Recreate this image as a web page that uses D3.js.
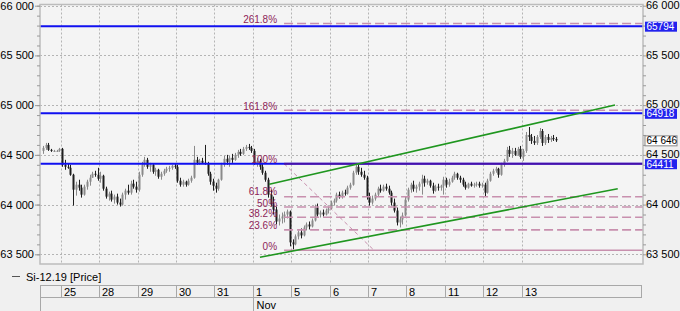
<!DOCTYPE html>
<html>
<head>
<meta charset="utf-8">
<script src="https://d3js.org/d3.v7.min.js"></script>
<style>
  body { margin: 0; background: #f0f0f0; }
  svg { display: block; font-family: "Liberation Sans", Arial, sans-serif; font-size: 11px; }
</style>
</head>
<body>
<svg width="680" height="311"></svg>
<script>
// trading days on the x axis and the number of hourly bars in each
var days = ["24", "25", "28", "29", "30", "31", "1", "5", "6", "7", "8", "11", "12", "13"];
var barsPerDay = [7, 14, 14, 14, 14, 14, 14, 14, 14, 14, 14, 14, 14, 13];
var monthLabels = [{day: "1", text: "Nov"}];

// Si-12.19 hourly bars, one line per day
var opens = [
  64540,64570,64600,64550,64540,64540,64540,
  64560,64400,64380,64370,64300,64150,64200,64170,64100,64180,64230,64270,64310,64300,
  64260,64290,64160,64080,64110,64050,64080,64020,64000,64100,64140,64120,64210,64180,
  64150,64300,64400,64450,64380,64400,64330,64350,64280,64310,64340,64360,64370,64390,
  64380,64240,64200,64230,64200,64240,64270,64450,64420,64440,64420,64410,64310,64230,
  64190,64160,64250,64400,64460,64430,64470,64450,64500,64530,64510,64560,64580,64570,
  64540,64420,64440,64380,64320,64250,64100,64000,63950,63830,63860,63880,63900,63930,
  63620,63600,63680,63720,63690,63770,63800,63780,63840,63970,63900,63920,63900,63940,
  63960,64020,64040,64100,64080,64120,64110,64170,64200,64320,64380,64330,64300,64270,
  64080,64020,64060,64100,64160,64140,64180,64160,64120,64020,63940,63820,63850,63890,
  64050,64150,64200,64160,64180,64210,64260,64220,64240,64190,64140,64180,64170,64190,
  64250,64200,64230,64270,64310,64270,64250,64200,64170,64210,64190,64200,64210,64190,
  64200,64120,64240,64310,64340,64360,64300,64400,64440,64550,64510,64540,64500,64560,
  64480,64540,64700,64680,64640,64620,64680,64740,64620,64680,64650,64670,64660
];
var highs = [
  64590,64620,64620,64560,64550,64550,64570,
  64570,64450,64410,64400,64310,64230,64250,64200,64200,64250,64300,64330,64340,64370,
  64330,64300,64180,64130,64140,64100,64110,64060,64120,64160,64200,64240,64250,64230,
  64330,64430,64480,64470,64420,64410,64370,64360,64330,64360,64380,64390,64400,64410,
  64400,64270,64250,64240,64260,64290,64590,64480,64460,64470,64600,64430,64330,64260,
  64220,64260,64420,64490,64500,64490,64510,64520,64550,64560,64580,64600,64610,64590,
  64560,64470,64460,64420,64340,64270,64150,64080,63980,63900,63920,63930,63950,63940,
  63650,63700,63740,63760,63790,63820,63830,63860,64000,64010,63940,63950,63960,63980,
  64040,64060,64120,64130,64140,64150,64190,64220,64340,64410,64400,64370,64340,64290,
  64120,64090,64120,64180,64200,64200,64210,64190,64140,64060,63970,63880,63920,64080,
  64170,64220,64240,64200,64230,64300,64290,64260,64250,64220,64200,64210,64200,64280,
  64270,64260,64290,64330,64320,64290,64270,64230,64220,64230,64220,64230,64230,64220,
  64220,64260,64330,64360,64380,64370,64420,64460,64580,64590,64570,64570,64580,64590,
  64560,64730,64780,64710,64690,64700,64770,64760,64700,64710,64690,64700,64680
];
var lows = [
  64510,64550,64540,64530,64530,64530,64530,
  64380,64350,64360,64290,63990,64090,64140,64070,64090,64150,64190,64270,64280,64240,
  64220,64140,64060,64040,64030,64010,64000,63980,63990,64050,64100,64100,64160,64120,
  64130,64280,64380,64360,64330,64310,64290,64260,64250,64290,64320,64330,64350,64360,
  64220,64180,64180,64180,64190,64220,64260,64400,64400,64410,64400,64290,64200,64140,
  64120,64140,64240,64380,64400,64380,64420,64440,64470,64490,64500,64540,64550,64520,
  64400,64380,64350,64300,64230,64070,63980,63900,63800,63790,63810,63820,63860,63580,
  63550,63590,63650,63660,63680,63740,63750,63770,63830,63880,63870,63880,63890,63910,
  63950,63990,64020,64060,64060,64090,64100,64150,64190,64300,64300,64280,64250,64050,
  63990,64000,64040,64080,64120,64130,64140,64100,63990,63920,63790,63770,63800,63880,
  64030,64120,64130,64120,64140,64100,64180,64200,64170,64110,64130,64140,64140,64100,
  64170,64180,64220,64250,64250,64220,64180,64150,64160,64180,64170,64180,64170,64170,
  64080,64110,64230,64290,64320,64270,64290,64380,64430,64480,64470,64490,64490,64460,
  64440,64520,64640,64610,64600,64600,64660,64590,64600,64620,64630,64640,64630
];
var closes = [
  64570,64600,64550,64540,64540,64540,64560,
  64400,64380,64370,64300,64150,64200,64170,64100,64180,64230,64270,64310,64300,64260,
  64290,64160,64080,64110,64050,64080,64020,64000,64100,64140,64120,64210,64180,64150,
  64300,64400,64450,64380,64400,64330,64350,64280,64310,64340,64360,64370,64390,64380,
  64240,64200,64230,64200,64240,64270,64450,64420,64440,64420,64410,64310,64230,64190,
  64160,64250,64400,64460,64430,64470,64450,64500,64530,64510,64560,64580,64570,64540,
  64420,64440,64380,64320,64250,64100,64000,63950,63830,63860,63880,63900,63930,63620,
  63600,63680,63720,63690,63770,63800,63780,63840,63970,63900,63920,63900,63940,63960,
  64020,64040,64100,64080,64120,64110,64170,64200,64320,64380,64330,64300,64270,64080,
  64020,64060,64100,64160,64140,64180,64160,64120,64020,63940,63820,63850,63890,64050,
  64150,64200,64160,64180,64210,64260,64220,64240,64190,64140,64180,64170,64190,64250,
  64200,64230,64270,64310,64270,64250,64200,64170,64210,64190,64200,64210,64190,64200,
  64120,64240,64310,64340,64360,64300,64400,64440,64550,64510,64540,64500,64560,64480,
  64540,64700,64680,64640,64620,64680,64740,64620,64680,64650,64670,64660,64646
];

// drawn objects
var yTicks = [63500, 64000, 64500, 65000, 65500, 66000];
var levelLines = [65794, 64918, 64411];
var lastPrice = 64646;
var fibHigh = 64411, fibLow = 63540;           // 100% and 0%
var fibFrom = 88.4, fibTo = 121.2;               // bar index of the two anchors
var fibRatios = [0, 0.236, 0.382, 0.5, 0.618, 1, 1.618, 2.618];
var fibLabels = ["0%", "23.6%", "38.2%", "50%", "61.8%", "100%", "161.8%", "261.8%"];
var channelUpper = [[83.0, 64204], [209.0, 65001]];
var channelLower = [[79.6, 63470], [210.0, 64160]];

var svg = d3.select("svg");
var plot = {left: 40, right: 643, top: 4.5, bottom: 264};

var x = d3.scaleLinear().domain([0, 220]).range([41.5, 41.5 + 220 * 2.744]);
var y = d3.scaleLinear().domain([63500, 66000]).range([254.3, 5.7]);
var fmt = function(d) { return d3.format(",")(d).replace(",", " "); };

// day start indexes
var dayStart = [], acc = 0;
barsPerDay.forEach(function(n) { dayStart.push(acc); acc += n; });

var bars = closes.map(function(c, i) {
  return {i: i, o: opens[i], h: highs[i], l: lows[i], c: c};
});

// plot background
svg.append("rect")
  .attr("x", plot.left).attr("y", plot.top)
  .attr("width", plot.right - plot.left).attr("height", plot.bottom - plot.top)
  .attr("fill", "#f4f4f4");

// grid
var grid = svg.append("g").attr("stroke", "#b4b4b4").attr("stroke-dasharray", "2,2");
grid.selectAll(".h").data(yTicks).enter().append("line")
  .attr("x1", plot.left).attr("x2", plot.right)
  .attr("y1", function(d) { return Math.round(y(d)) + 0.5; })
  .attr("y2", function(d) { return Math.round(y(d)) + 0.5; });
grid.selectAll(".v").data(dayStart.slice(1)).enter().append("line")
  .attr("y1", plot.top).attr("y2", plot.bottom)
  .attr("x1", function(d) { return Math.round(x(d)) + 0.5; })
  .attr("x2", function(d) { return Math.round(x(d)) + 0.5; });

// candles
var candles = svg.append("g").selectAll("g").data(bars).enter().append("g")
  .attr("fill", function(d) { return d.c >= d.o ? "#8a8a8a" : "#1e1e1e"; })
  .attr("stroke", function(d) { return d.c >= d.o ? "#8a8a8a" : "#1e1e1e"; });
candles.append("line")
  .attr("x1", function(d) { return Math.round(x(d.i + 0.5)) + 0.5; })
  .attr("x2", function(d) { return Math.round(x(d.i + 0.5)) + 0.5; })
  .attr("y1", function(d) { return y(d.h); })
  .attr("y2", function(d) { return y(d.l); });
candles.append("rect")
  .attr("stroke", "none")
  .attr("x", function(d) { return Math.round(x(d.i + 0.5)) - 0.5; })
  .attr("width", 2)
  .attr("y", function(d) { return y(Math.max(d.o, d.c)); })
  .attr("height", function(d) { return Math.max(1, Math.abs(y(d.o) - y(d.c))); });

// fibonacci levels
var fibX = x(fibFrom);
var fib = fibRatios.map(function(r, k) {
  return {r: r, label: fibLabels[k], v: fibLow + r * (fibHigh - fibLow)};
});
svg.append("g").selectAll("line").data(fib.filter(function(d) { return d.r !== 1; }))
  .enter().append("line")
  .attr("x1", fibX).attr("x2", plot.right)
  .attr("y1", function(d) { return y(d.v); })
  .attr("y2", function(d) { return y(d.v); })
  .attr("stroke", "#c890ae")
  .attr("stroke-width", 1.6)
  .attr("stroke-dasharray", function(d) { return d.r === 0 ? null : "9,4"; });

svg.append("line")
  .attr("x1", fibX).attr("y1", y(fibHigh))
  .attr("x2", x(fibTo)).attr("y2", y(fibLow))
  .attr("stroke", "#c890ae").attr("stroke-dasharray", "4,3");

// horizontal levels
svg.append("g").selectAll("line").data(levelLines).enter().append("line")
  .attr("x1", plot.left).attr("x2", plot.right)
  .attr("y1", function(d) { return y(d); })
  .attr("y2", function(d) { return y(d); })
  .attr("stroke", "#1010f0").attr("stroke-width", 2);
// 100% level on top of the 64411 line
svg.append("line")
  .attr("x1", fibX).attr("x2", plot.right)
  .attr("y1", y(fibHigh)).attr("y2", y(fibHigh))
  .attr("stroke", "#5a1090").attr("stroke-width", 2).attr("opacity", 0.75);

svg.append("g").selectAll("text").data(fib).enter().append("text")
  .attr("x", fibX - 7)
  .attr("y", function(d) { return y(d.v) - (d.r === 0.618 ? 2 : 0.5); })
  .attr("text-anchor", "end")
  .attr("font-size", 10)
  .attr("fill", "#8e2458")
  .text(function(d) { return d.label; });

// trend channel
var line = d3.line().x(function(d) { return x(d[0]); }).y(function(d) { return y(d[1]); });
svg.append("g").selectAll("path").data([channelUpper, channelLower]).enter().append("path")
  .attr("d", line)
  .attr("fill", "none")
  .attr("stroke", "#1f961f")
  .attr("stroke-width", 1.6);

// frame
svg.append("rect")
  .attr("x", plot.left).attr("y", plot.top)
  .attr("width", plot.right - plot.left).attr("height", plot.bottom - plot.top)
  .attr("fill", "none").attr("stroke", "#bcbcbc").attr("stroke-width", 1.5);

// y axes
var minor = d3.range(63500, 66001, 100);
var leftAxis = svg.append("g").attr("transform", "translate(" + plot.left + ",0)")
  .call(d3.axisLeft(y).tickValues(minor).tickSize(3).tickFormat(""));
var leftLabels = svg.append("g").attr("transform", "translate(" + plot.left + ",0)")
  .call(d3.axisLeft(y).tickValues(yTicks).tickSize(5).tickPadding(1).tickFormat(fmt));
var rightAxis = svg.append("g").attr("transform", "translate(" + plot.right + ",0)")
  .call(d3.axisRight(y).tickValues(minor).tickSize(3).tickFormat(""));
var rightLabels = svg.append("g").attr("transform", "translate(" + plot.right + ",0)")
  .call(d3.axisRight(y).tickValues(yTicks).tickSize(0).tickPadding(3).tickFormat(fmt));
[leftAxis, leftLabels, rightAxis, rightLabels].forEach(function(g) {
  g.select(".domain").remove();
  g.selectAll("line").attr("stroke", "#9a9a9a");
  g.selectAll("text").attr("font-size", 11).attr("font-family", "Liberation Sans, Arial").attr("fill", "#000");
});
rightLabels.selectAll("text").attr("dy", "0.25em");

// price boxes on the right axis
var boxes = levelLines.map(function(v) { return {v: v, text: String(v), bg: "#2222ee", fg: "#fff"}; });
boxes.push({v: lastPrice, text: fmt(lastPrice), bg: "#fff", fg: "#000", stroke: "#888"});
var box = svg.append("g").selectAll("g").data(boxes).enter().append("g")
  .attr("transform", function(d) { return "translate(" + (plot.right + 2) + "," + y(d.v) + ")"; });
box.append("rect")
  .attr("x", 0).attr("y", -4.5).attr("width", 32).attr("height", 10)
  .attr("fill", function(d) { return d.bg; })
  .attr("stroke", function(d) { return d.stroke || "none"; });
box.append("text")
  .attr("x", 1.5).attr("y", 4)
  .attr("font-size", 10)
  .attr("fill", function(d) { return d.fg; })
  .text(function(d) { return d.text; });

// legend
svg.append("line").attr("x1", 12).attr("x2", 20).attr("y1", 276.5).attr("y2", 276.5).attr("stroke", "#555");
svg.append("text").attr("x", 26).attr("y", 280.5).text("Si-12.19 [Price]");

// time axis
var axisG = svg.append("g").attr("stroke", "#a8a8a8").attr("shape-rendering", "crispEdges");
axisG.append("line").attr("x1", plot.left).attr("x2", plot.right - 1).attr("y1", 285.5).attr("y2", 285.5);
axisG.append("line").attr("x1", plot.left).attr("x2", plot.right - 1).attr("y1", 297.5).attr("y2", 297.5);
axisG.append("line").attr("x1", plot.left + 0.5).attr("x2", plot.left + 0.5).attr("y1", 285).attr("y2", 311);
axisG.append("line").attr("x1", plot.right - 1.5).attr("x2", plot.right - 1.5).attr("y1", 285).attr("y2", 298);
axisG.selectAll(".sep").data(dayStart.slice(1)).enter().append("line")
  .attr("x1", function(d) { return Math.round(x(d)) + 0.5; })
  .attr("x2", function(d) { return Math.round(x(d)) + 0.5; })
  .attr("y1", 285.5).attr("y2", 297.5);

svg.append("g").selectAll("text").data(days.slice(1)).enter().append("text")
  .attr("x", function(d, k) { return Math.round(x(dayStart[k + 1])) + 3; })
  .attr("y", 295.5)
  .text(function(d) { return d; });

monthLabels.forEach(function(m) {
  var xm = Math.round(x(dayStart[days.indexOf(m.day)])) + 0.5;
  axisG.append("line").attr("x1", xm).attr("x2", xm).attr("y1", 297.5).attr("y2", 311);
  svg.append("text").attr("x", xm + 3).attr("y", 308.5).text(m.text);
});
</script>
</body>
</html>
